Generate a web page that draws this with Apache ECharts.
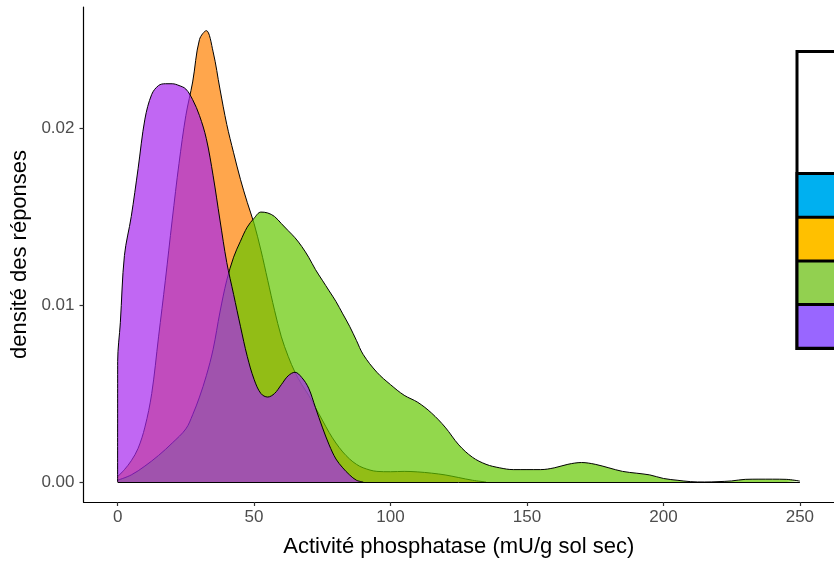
<!DOCTYPE html>
<html>
<head>
<meta charset="utf-8">
<script src="https://cdn.jsdelivr.net/npm/echarts@6/dist/echarts.min.js"></script>
<style>html,body{margin:0;padding:0;background:#fff}#c{width:834px;height:563px}</style>
</head>
<body>
<div id="c"></div>
<script>
// ---- data ----
const groupNames = ['Groupe A', 'Groupe B', 'Groupe C', 'Groupe D'];
const xTicks = [0, 50, 100, 150, 200, 250];
const yTicks = [0, 0.01, 0.02];

const blueX = [];
const blueY = [];

const orangeX = [0,2.5,5,7.5,10,12.5,15,17.5,20,22.5,25,27.5,30,32.5,35,37.5,40,42.5,45,47.5,50,52.5,55,57.5,60,62.5,65,67.5,70,72.5,75,77.5,80,82.5,85,87.5,90,95,100,105,110,115,120,125,130,135];
const orangeY = [0.0003,0.0007,0.0012,0.0019,0.0031,0.0050,0.0082,0.0114,0.0148,0.0180,0.0207,0.0226,0.0250,0.0255,0.0243,0.0222,0.0202,0.0186,0.0171,0.0158,0.0146,0.0131,0.0114,0.0097,0.0082,0.0071,0.0062,0.0055,0.0049,0.0042,0.0035,0.0028,0.0022,0.0017,0.0013,0.0010,0.0008,0.0006,0.00058,0.0006,0.00057,0.0005,0.0004,0.00025,0.0001,0];

const greenX = [0,5,10,15,20,25,27.5,30,32.5,35,37.5,40,42.5,45,47.5,50,52.5,55,57.5,60,62.5,65,67.5,70,72.5,75,77.5,80,82.5,85,87.5,90,95,100,105,110,115,120,125,130,135,140,145,150,155,160,165,170,175,180,185,190,195,200,205,210,215,220,225,230,235,240,245,250];
const greenY = [0.0001,0.0004,0.0009,0.0015,0.0022,0.0030,0.0038,0.0048,0.0060,0.0075,0.0096,0.0114,0.0127,0.0136,0.0144,0.0149,0.01525,0.0152,0.0150,0.0146,0.0142,0.0138,0.0133,0.0127,0.0120,0.0114,0.0108,0.0102,0.0095,0.0088,0.0080,0.0072,0.0062,0.0055,0.0049,0.0045,0.0039,0.0031,0.0021,0.0014,0.0010,0.0008,0.0007,0.0007,0.0007,0.0008,0.0010,0.0011,0.0010,0.0008,0.0006,0.0005,0.0004,0.0002,0.0001,0.00002,0,0.00002,0.00006,0.00015,0.00016,0.00016,0.00015,0.00005];

const purpleX = [0,0.02,1,2.5,5,7.5,10,12.5,15,17.5,20,22.5,25,27.5,30,32.5,35,37.5,40,42.5,45,47.5,50,52.5,55,57.5,60,62.5,65,67.5,70,72.5,75,77.5,80,82.5,85,87.5,90];
const purpleY = [0,0.0068,0.0090,0.0128,0.0150,0.0177,0.0205,0.0219,0.0224,0.0225,0.0225,0.0224,0.0222,0.0216,0.0207,0.0194,0.0173,0.0148,0.0124,0.0106,0.0088,0.0071,0.0058,0.0050,0.0048,0.0050,0.0055,0.0060,0.0062,0.0059,0.0053,0.0042,0.0031,0.0021,0.0013,0.0008,0.0004,0.0001,0];

const fillColors = ['#00B0F0', '#FF8000', '#64C800', '#A626EE'];
const legendColors = ['#00B0F0', '#FFC000', '#92D050', '#9966FF'];

function pairs(xs, ys) { return xs.map((x, i) => [x, ys[i]]); }
const seriesData = [pairs(blueX, blueY), pairs(orangeX, orangeY), pairs(greenX, greenY), pairs(purpleX, purpleY)];

const chart = echarts.init(document.getElementById('c'), null, {renderer: 'canvas'});

const series = seriesData.map((d, i) => ({
  name: groupNames[i],
  type: 'line',
  data: d,
  showSymbol: false,
  symbol: 'none',
  smooth: 0.35,
  silent: true,
  color: fillColors[i],
  lineStyle: {color: '#000', width: 1},
  areaStyle: {color: fillColors[i], opacity: 0.7, origin: 'auto'},
  z: 2 + i
}));
// baseline of the density polygons
series[2].markLine = {
  silent: true, symbol: 'none', label: {show: false},
  lineStyle: {color: '#000', width: 1, type: 'solid'},
  data: [[{coord: [0, 0]}, {coord: [250, 0]}]]
};

const axisLabelStyle = {color: '#4D4D4D', fontSize: 17, fontFamily: 'Liberation Sans, Arial, sans-serif'};
const nameStyle = {color: '#000', fontSize: 22, fontFamily: 'Liberation Sans, Arial, sans-serif'};

chart.setOption({
  animation: false,
  backgroundColor: '#fff',
  grid: {left: 83.5, top: 7, width: 759, height: 495, containLabel: false},
  xAxis: {
    type: 'value', min: -12.5, max: 262.5,
    name: 'Activité phosphatase (mU/g sol sec)', nameLocation: 'middle', nameGap: 34,
    nameTextStyle: nameStyle,
    axisLine: {show: true, onZero: false, lineStyle: {color: '#000', width: 1.2}},
    axisTick: {show: true, length: 4, lineStyle: {color: '#333', width: 1.2}, customValues: xTicks},
    axisLabel: Object.assign({margin: 7, customValues: xTicks, formatter: v => String(v)}, axisLabelStyle),
    splitLine: {show: false}
  },
  yAxis: {
    type: 'value', min: -0.00113, max: 0.026836,
    name: 'densité des réponses', nameLocation: 'middle', nameGap: 44,
    nameTextStyle: nameStyle,
    axisLine: {show: true, onZero: false, lineStyle: {color: '#000', width: 1.2}},
    axisTick: {show: true, length: 4, lineStyle: {color: '#333', width: 1.2}, customValues: yTicks},
    axisLabel: Object.assign({margin: 9, customValues: yTicks, formatter: v => v.toFixed(2)}, axisLabelStyle),
    splitLine: {show: false}
  },
  legend: {
    orient: 'vertical', left: 798.5, top: 175, padding: 0,
    itemWidth: 40, itemHeight: 40.7, itemGap: 3, icon: 'rect',
    selectedMode: false,
    textStyle: {fontSize: 17, color: '#000'},
    data: groupNames.map((n, i) => ({name: n, itemStyle: {color: legendColors[i], borderWidth: 0, opacity: 1}}))
  },
  graphic: [{
    type: 'rect', z: 3,
    shape: {x: 797, y: 51.5, width: 60, height: 297},
    style: {fill: '#fff', stroke: '#000', lineWidth: 3}
  }, {
    type: 'rect', z: 3,
    shape: {x: 795.5, y: 172, width: 60, height: 178},
    style: {fill: '#000'}
  }],
  series: series
});
</script>
</body>
</html>
